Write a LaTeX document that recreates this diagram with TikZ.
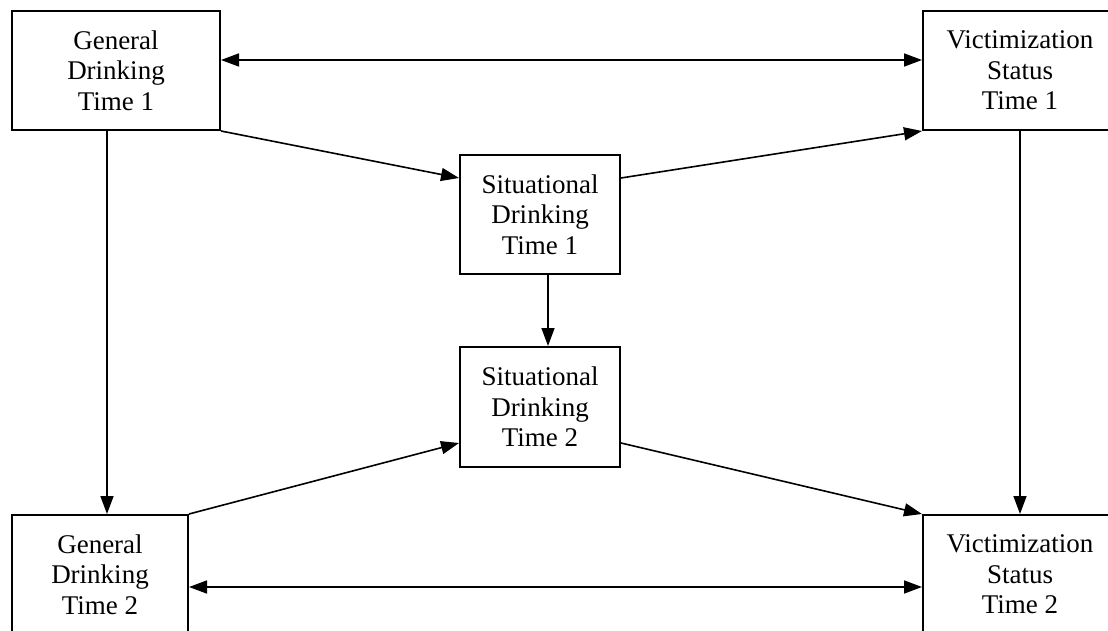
\documentclass[tikz,border=0pt]{standalone}
\usepackage{fontspec}
\setmainfont{Liberation Serif}
\usetikzlibrary{arrows.meta,calc}
\tikzset{
  box/.style={draw=black, line width=2pt, fill=white, rectangle, inner sep=0pt, align=center,
    font=\fontsize{27}{30.5}\selectfont},
  conn/.style={line width=1.6pt, -{Triangle[length=18pt,width=13pt]}},
  dconn/.style={line width=1.6pt, {Triangle[length=18pt,width=13pt]}-{Triangle[length=18pt,width=13pt]}}
}
\begin{document}
\begin{tikzpicture}[x=1pt,y=-1pt]
\useasboundingbox (0,0) rectangle (1108,631);
\node[box, minimum width=208pt, minimum height=119pt] (gd1) at (116,70.5) {General\\Drinking\\Time 1};
\node[box, minimum width=194pt, minimum height=119pt] (vs1) at (1020,70.5) {Victimization\\Status\\Time 1};
\node[box, minimum width=160pt, minimum height=119pt] (sd1) at (540,214.5) {Situational\\Drinking\\Time 1};
\node[box, minimum width=160pt, minimum height=120pt] (sd2) at (540,407) {Situational\\Drinking\\Time 2};
\node[box, minimum width=176pt, minimum height=119pt] (gd2) at (100,574.5) {General\\Drinking\\Time 2};
\node[box, minimum width=194pt, minimum height=119pt] (vs2) at (1020,574.5) {Victimization\\Status\\Time 2};
% horizontal double arrows
\draw[dconn] ([yshift=10.5pt]gd1.east) -- ([yshift=10.5pt]vs1.west);
\draw[dconn] ([yshift=-12.5pt]gd2.east) -- ([yshift=-12.5pt]vs2.west);
% vertical arrows
\draw[conn] (gd1.south -| 107,0) -- (gd2.north -| 107,0);
\draw[conn] (vs1.south) -- (vs2.north);
\draw[conn] ([xshift=8pt]sd1.south) -- ([xshift=8pt]sd2.north);
% diagonal arrows
\draw[conn] (gd1.south east) -- ([yshift=36.5pt]sd1.west);
\draw[conn] ([yshift=36.5pt]sd1.east) -- (vs1.south west);
\draw[conn] (gd2.north east) -- ([yshift=-36pt]sd2.west);
\draw[conn] ([yshift=-36pt]sd2.east) -- (vs2.north west);
\end{tikzpicture}
\end{document}
